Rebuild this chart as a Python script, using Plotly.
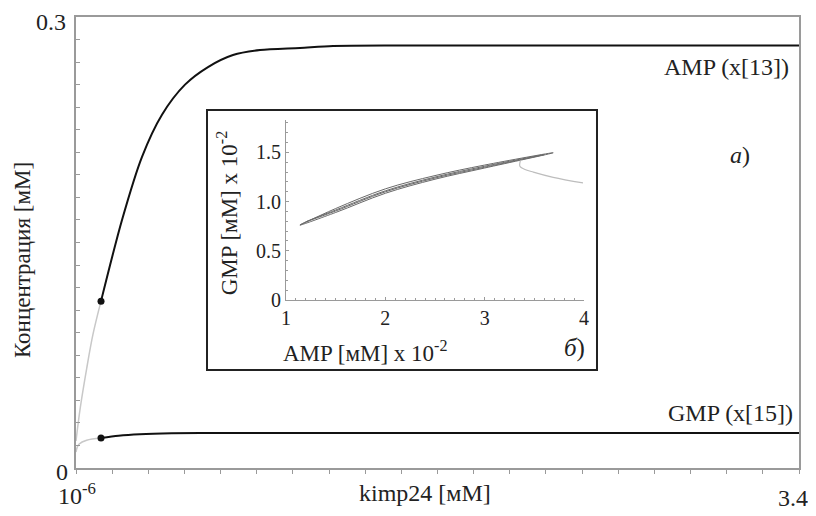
import plotly.graph_objects as go

# ---- main chart data (kimp24 [mM] vs concentration [mM]) ----
amp_gray_x = [1e-6, 0.02, 0.05, 0.08, 0.1176]
amp_gray_y = [0.018, 0.040, 0.066, 0.089, 0.111]
amp_x = [0.1176, 0.2163, 0.3104, 0.4044, 0.5126, 0.6207, 0.7383, 0.8653, 1.0534, 1.2086, 1.5236, 2.0, 3.4]
amp_y = [0.111, 0.165, 0.207, 0.235, 0.255, 0.2667, 0.2747, 0.278, 0.2794, 0.2807, 0.281, 0.281, 0.281]

gmp_gray_x = [1e-6, 0.005, 0.015, 0.05, 0.1176]
gmp_gray_y = [0.0106, 0.0135, 0.016, 0.0185, 0.020]
gmp_x = [0.1176, 0.2, 0.3, 0.45, 0.7, 1.0, 3.4]
gmp_y = [0.020, 0.0215, 0.0225, 0.0231, 0.0233, 0.0233, 0.0233]

dot_x = [0.1176, 0.1176]
dot_y = [0.111, 0.020]

# ---- inset data (AMP x1e-2 vs GMP x1e-2) ----
loop_x = [1.14, 1.5, 2.0, 2.5, 3.0, 3.69, 3.0, 2.5, 2.0, 1.5, 1.14,
          1.2, 1.5, 2.0, 2.5, 3.0, 3.6, 3.0, 2.5, 2.0, 1.5, 1.2]
loop_y = [0.762, 0.93, 1.13, 1.265, 1.372, 1.497, 1.342, 1.228, 1.085, 0.89, 0.762,
          0.795, 0.915, 1.11, 1.25, 1.36, 1.478, 1.35, 1.24, 1.10, 0.905, 0.795]
tail_x = [3.36, 3.355, 3.40, 3.49, 3.69, 3.99]
tail_y = [1.42, 1.36, 1.33, 1.30, 1.247, 1.19]

main_xticks = [1e-6] + [3.4 * i / 20 for i in range(1, 21)]
main_yticks = [0.015 * i for i in range(21)]
main_xlabels = ["10<sup>-6</sup>", "3.4"]
main_ylabels = ["0", "0.3"]

inset_xticks = [1, 2, 3, 4]
inset_xtext = ["1", "2", "3", "4"]
inset_yticks = [0, 0.5, 1.0, 1.5]
inset_ytext = ["0", "0.5", "1.0", "1.5"]

FONT = "Liberation Serif, Times New Roman, serif"
AX = "#9a9a9a"

fig = go.Figure()
fig.add_trace(go.Scatter(x=amp_gray_x, y=amp_gray_y, mode="lines", line=dict(color="#c8c8c8", width=1.5, shape="spline")))
fig.add_trace(go.Scatter(x=gmp_gray_x, y=gmp_gray_y, mode="lines", line=dict(color="#c8c8c8", width=1.5, shape="spline")))
fig.add_trace(go.Scatter(x=amp_x, y=amp_y, mode="lines", line=dict(color="#111", width=2, shape="spline", smoothing=0.8)))
fig.add_trace(go.Scatter(x=gmp_x, y=gmp_y, mode="lines", line=dict(color="#111", width=2, shape="spline", smoothing=0.8)))
fig.add_trace(go.Scatter(x=dot_x, y=dot_y, mode="markers", marker=dict(color="#111", size=7)))

fig.add_trace(go.Scatter(x=loop_x, y=loop_y, mode="lines", xaxis="x2", yaxis="y2",
                         line=dict(color="#6a6a6a", width=1, shape="spline", smoothing=1.0)))
fig.add_trace(go.Scatter(x=tail_x, y=tail_y, mode="lines", xaxis="x2", yaxis="y2",
                         line=dict(color="#bdbdbd", width=1.2, shape="spline")))

annotations = [
    dict(text="kimp24 [мМ]", x=0.4827, y=-0.0554, font=dict(size=24)),
    dict(text="Концентрация [мМ]", x=-0.0747, y=0.461, textangle=-90, font=dict(size=23)),
    dict(text="AMP (x[13])", x=0.989, y=0.889, xanchor="right", font=dict(size=24)),
    dict(text="GMP (x[15])", x=0.9945, y=0.122, xanchor="right", font=dict(size=24)),
    dict(text="<i>а</i>)", x=0.918, y=0.694, font=dict(size=24)),
    dict(text="<i>б</i>)", x=0.690, y=0.266, font=dict(size=25)),
    dict(text="AMP [мМ] x 10<sup>-2</sup>", x=0.4, y=0.258, font=dict(size=23)),
    dict(text="GMP [мМ] x 10<sup>-2</sup>", x=0.209, y=0.565, textangle=-90, font=dict(size=23)),
    # main-axis end labels
    dict(text=main_ylabels[1], x=-0.011, y=0.989, xanchor="right", font=dict(size=24)),
    dict(text=main_ylabels[0], x=-0.0083, y=-0.009, xanchor="right", font=dict(size=24)),
    dict(text=main_xlabels[0], x=0.0014, y=-0.0576, font=dict(size=24)),
    dict(text=main_xlabels[1], x=1.0152, y=-0.0665, xanchor="right", font=dict(size=24)),
]
for a in annotations:
    a.setdefault("xanchor", "center")
    a.update(xref="paper", yref="paper", showarrow=False, yanchor="middle")

# the page body has an 8px margin, so the figure is sized to fit the 816x516 window
fig.update_layout(
    width=808, height=508,
    margin=dict(l=68, r=17, t=9, b=48),
    plot_bgcolor="white", paper_bgcolor="white",
    showlegend=False,
    font=dict(family=FONT, color="#222", size=23),
    xaxis=dict(range=[1e-6, 3.4], tickvals=main_xticks, showticklabels=False, automargin=False,
               showline=True, linecolor=AX, linewidth=1.5, mirror=True,
               ticks="outside", ticklen=4, tickcolor=AX, showgrid=False, zeroline=False),
    yaxis=dict(range=[0, 0.3], tickvals=main_yticks, showticklabels=False, automargin=False,
               showline=True, linecolor=AX, linewidth=1.5, mirror=True,
               ticks="inside", ticklen=4, tickcolor=AX, showgrid=False, zeroline=False),
    xaxis2=dict(domain=[0.2905, 0.7026], anchor="y2", range=[1, 4], automargin=False,
                tickvals=inset_xticks, ticktext=inset_xtext,
                showline=True, linecolor=AX, linewidth=1, ticks="inside", ticklen=3, tickcolor=AX,
                minor=dict(dtick=0.1, ticks="inside", ticklen=2, tickcolor=AX),
                showgrid=False, zeroline=False, tickfont=dict(size=20)),
    yaxis2=dict(domain=[0.3725, 0.7716], anchor="x2", range=[0, 1.83], automargin=False,
                tickvals=inset_yticks, ticktext=inset_ytext,
                showline=True, linecolor=AX, linewidth=1, ticks="inside", ticklen=3, tickcolor=AX,
                minor=dict(dtick=0.1, ticks="inside", ticklen=2, tickcolor=AX),
                showgrid=False, zeroline=False, tickfont=dict(size=20)),
    shapes=[dict(type="rect", xref="paper", yref="paper", x0=0.1812, x1=0.7206, y0=0.2173, y1=0.7938,
                 line=dict(color="#222", width=2), fillcolor="white", layer="below")],
    annotations=annotations,
)

fig.write_html("out.html")
